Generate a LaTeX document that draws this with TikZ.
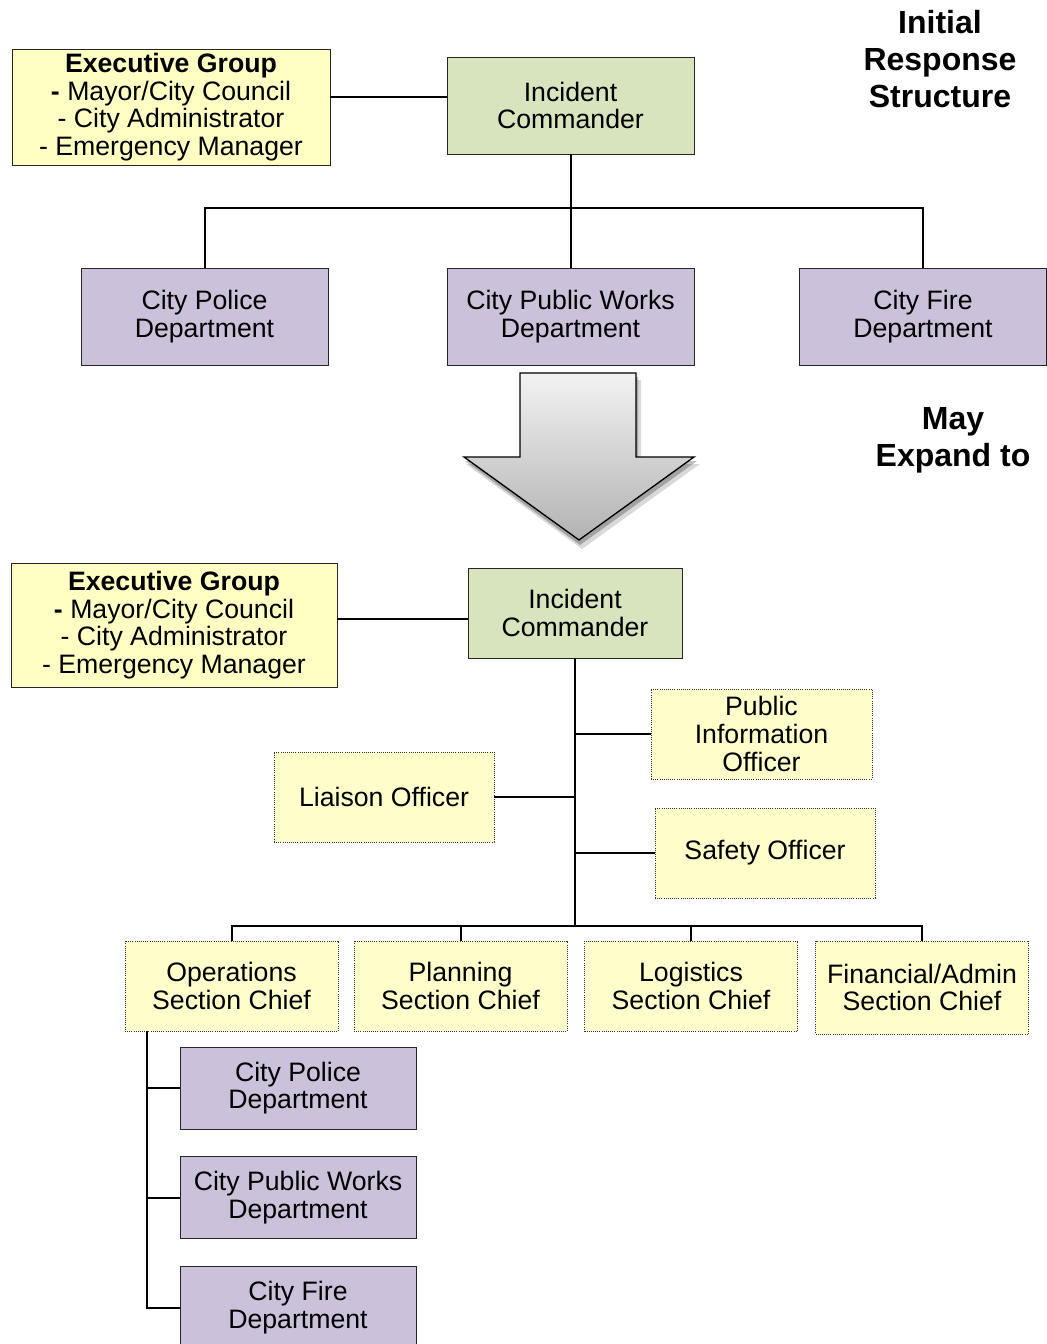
\documentclass[tikz,border=0pt]{standalone}
\usepackage{fontspec}
\setmainfont{Liberation Sans}
\usetikzlibrary{positioning,calc}
\definecolor{execfill}{HTML}{FFFFC4}
\definecolor{icfill}{HTML}{D7E4BD}
\definecolor{deptfill}{HTML}{CCC1DA}
\definecolor{offfill}{HTML}{FFFFCC}

\begin{document}
\begin{tikzpicture}[
  x=0.75pt,y=-0.75pt,
  font=\fontsize{20}{20.8}\selectfont,
  exec/.style={draw=black!85,line width=0.6pt,fill=execfill,align=center,inner sep=1pt},
  ic/.style={draw=black!85,line width=0.6pt,fill=icfill,align=center,inner sep=1pt},
  dept/.style={draw=black!85,line width=0.6pt,fill=deptfill,align=center,inner sep=1pt},
  off/.style={draw=black!80,densely dotted,line width=0.6pt,fill=offfill,align=center,inner sep=1pt},
  ln/.style={line width=1.5pt},
  ttl/.style={font=\fontsize{24}{27.8}\selectfont\bfseries,align=center}
]
\useasboundingbox (0,0) rectangle (1046,1344);

% ---- initial response structure ----
\node[exec,minimum width=238.5pt,minimum height=87pt] (exec1) at (171,107)
  {\textbf{Executive Group}\\\textbf{-} Mayor/City Council\\- City Administrator\\- Emergency Manager};
\node[ic,minimum width=185.25pt,minimum height=72.75pt] (ic1) at (570.5,105.5) {Incident\\Commander};
\node[dept,minimum width=185.25pt,minimum height=72.75pt] (police1) at (204.5,316.5) {City Police\\Department};
\node[dept,minimum width=185.25pt,minimum height=72.75pt] (pw1) at (570.5,316.5) {City Public Works\\Department};
\node[dept,minimum width=185.25pt,minimum height=72.75pt] (fire1) at (923,316.5) {City Fire\\Department};
\node[ttl] (title) at (940,59) {Initial\\Response\\Structure};

\coordinate (link1) at (390,97);
\coordinate (bar1) at (570.5,208);
\draw[ln] (exec1.east |- link1) -- (ic1.west |- link1);
\draw[ln] (ic1) -- (pw1);
\draw[ln] (police1.north) |- (bar1) -| (fire1.north);

% ---- expand arrow ----
\fill[black,opacity=0.15] (525,380) -- (641,380) -- (641,464) -- (700,464) -- (582,549) -- (466,464) -- (525,464) -- cycle;
\fill[black,opacity=0.25] (522,377) -- (638,377) -- (638,461) -- (697,461) -- (580,545) -- (465,461) -- (522,461) -- cycle;
\shadedraw[top color=black!5,bottom color=black!30,draw=black,line width=1pt]
  (520,373) -- (636,373) -- (636,457) -- (694,457) -- (579,540) -- (464,457) -- (520,457) -- cycle;
\node[ttl] (expand) at (953,440) {May\\Expand to};

% ---- expanded structure ----
\node[exec,minimum width=244.5pt,minimum height=93pt] (exec2) at (174,625)
  {\textbf{Executive Group}\\\textbf{-} Mayor/City Council\\- City Administrator\\- Emergency Manager};
\node[ic,minimum width=160.5pt,minimum height=67.5pt] (ic2) at (575,613) {Incident\\Commander};
\node[off,minimum width=165.75pt,minimum height=67.5pt] (pio) at (761.5,734) {Public\\Information\\Officer};
\node[off,minimum width=165pt,minimum height=67.5pt] (liaison) at (384,797) {Liaison Officer};
\node[off,minimum width=165pt,minimum height=67.5pt] (safety) at (765,853) {Safety Officer};

% section chiefs
\node[off,minimum width=159.75pt,minimum height=67.5pt] (ops) at (231.5,986) {Operations\\Section Chief};
\node[off,minimum width=159.75pt,minimum height=67.5pt] (plan) at (460.5,986) {Planning\\Section Chief};
\node[off,minimum width=159.75pt,minimum height=67.5pt] (logi) at (691,986) {Logistics\\Section Chief};
\node[off,minimum width=159.75pt,minimum height=69.75pt] (fin) at (922,987.5) {Financial/Admin\\Section Chief};

% departments under operations
\node[dept,minimum width=177pt,minimum height=61.5pt] (police2) at (298,1088) {City Police\\Department};
\node[dept,minimum width=177pt,minimum height=61.5pt,below=20.25pt of police2] (pw2) {City Public Works\\Department};
\node[dept,minimum width=177pt,minimum height=61.5pt,below=20.25pt of pw2] (fire2) {City Fire\\Department};

% wires
\coordinate (link2) at (400,619);
\coordinate (bar2) at (575,926);
\coordinate (opsbar) at (147,1031);
\draw[ln] (exec2.east |- link2) -- (ic2.west |- link2);
\draw[ln] (ic2.south) -- (bar2);
\draw[ln] (pio.west) -- (pio.west -| ic2.south);
\draw[ln] (liaison.east) -- (liaison.east -| ic2.south);
\draw[ln] (safety.west) -- (safety.west -| ic2.south);
\draw[ln] (ops.north) |- (bar2) -| (fin.north);
\draw[ln] (plan.north) -- (plan.north |- bar2);
\draw[ln] (logi.north) -- (logi.north |- bar2);
\draw[ln] (opsbar) |- (fire2.west);
\draw[ln] (police2.west) -- (police2.west -| opsbar);
\draw[ln] (pw2.west) -- (pw2.west -| opsbar);
\end{tikzpicture}
\end{document}
